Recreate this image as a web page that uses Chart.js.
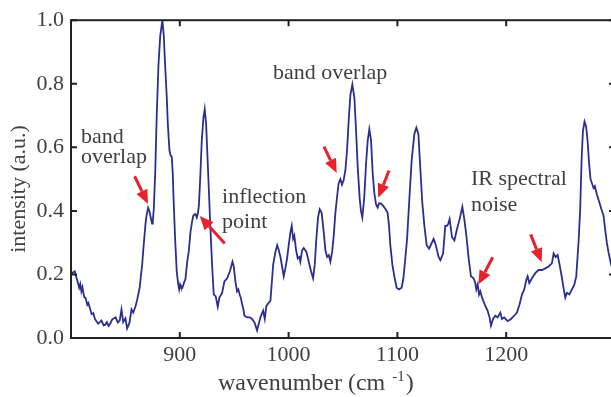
<!DOCTYPE html>
<html>
<head>
<meta charset="utf-8">
<script src="https://cdn.jsdelivr.net/npm/chart.js@4.4.1/dist/chart.umd.min.js"></script>
<style>
html, body { margin: 0; padding: 0; overflow: hidden; background: #fff; }
canvas { display: block; }
</style>
</head>
<body>
<canvas id="espectro" width="620" height="397"></canvas>
<script>
// numero de onda (cm-1)
const numeroDeOnda = [
  800.5, 802, 803.5, 805, 806.5, 807.5, 808.5, 809.5, 810.5, 812, 813.5, 815, 816, 817.5, 819, 820.5,
  822, 823.5, 825, 826.5, 828, 830, 831.5, 833, 834.5, 836, 837.8, 839.5, 841, 843, 844.8, 846.4,
  848, 850, 851.6, 853.8, 855.6, 857.2, 859.3, 860.8, 862, 863.2, 864.4, 865.4, 866.5, 867.5, 868.5,
  869.4, 870.9, 872, 873, 874.5, 875.2, 876.1, 877.4, 878.8, 880.4, 882, 884, 885.3, 886.5, 888, 889,
  890.5, 891.5, 892.6, 893.5, 894.2, 895.7, 897.2, 898.5, 899.4, 900.2, 901, 902.4, 903.5, 904.3,
  905.2, 906.8, 908.2, 909.8, 911, 912.3, 913.5, 914.4, 915.6, 916.5, 917.5, 918.7, 920.2, 921.7,
  922.9, 924.2, 925.7, 927.9, 929, 930, 931.2, 933, 934.9, 936.4, 938.9, 941, 943.5, 946, 948.4,
  949.6, 951.1, 952.6, 953.8, 955, 956.2, 957.3, 958.5, 959.4, 961.9, 964.3, 966.4, 968.6, 970, 971,
  972.5, 974.1, 976.6, 978.1, 979.6, 981.7, 983.3, 984.2, 985.8, 987.9, 989.5, 991, 992.5, 994,
  995.5, 997, 998.6, 1000.1, 1001.7, 1002.9, 1004.2, 1005.3, 1006.9, 1008.4, 1009.9, 1010.8, 1012.4,
  1013.9, 1016.4, 1018.5, 1020.7, 1022.5, 1024, 1025.5, 1027.1, 1028.6, 1030.4, 1032.3, 1033.8,
  1035.4, 1036.9, 1038.4, 1040, 1041.5, 1043, 1044.6, 1046, 1047.6, 1049.1, 1050.6, 1052.2, 1053.7,
  1055.2, 1056.8, 1058.6, 1060.5, 1062, 1063.5, 1065.3, 1066.5, 1067.8, 1069.6, 1071.2, 1072.7,
  1074.2, 1075.8, 1077.3, 1078.8, 1080.4, 1081.9, 1083.1, 1085, 1087.1, 1089.2, 1091, 1092.3, 1093.5,
  1095.4, 1097.2, 1099.3, 1101.5, 1103.9, 1105.5, 1107, 1108.9, 1110.7, 1113.1, 1115.6, 1117.4,
  1119.3, 1120.8, 1122.9, 1124.8, 1126.9, 1129.1, 1131, 1133.3, 1134.9, 1137.9, 1139.5, 1142, 1144,
  1145.6, 1146.8, 1148, 1150.2, 1152.4, 1154.8, 1157.2, 1159.7, 1161.5, 1163.4, 1165.5, 1167.6, 1170,
  1171.6, 1172.5, 1173.8, 1175, 1176.2, 1177.8, 1180.8, 1182.9, 1184.7, 1186, 1187.9, 1190, 1192.1,
  1194.6, 1196.1, 1198.2, 1201.3, 1204.4, 1207.4, 1209.9, 1212.3, 1214.5, 1216.6, 1218.5, 1219.7,
  1221.2, 1223.7, 1226.7, 1229.8, 1232.9, 1235.9, 1239, 1242, 1243.6, 1245.4, 1247.3, 1249.1, 1251.3,
  1252.7, 1254.3, 1255.8, 1258, 1260.4, 1262.6, 1264.4, 1266.5, 1268, 1269.3, 1270.5, 1272, 1273.5,
  1274.8, 1276.2, 1277.5, 1278.8, 1280.3, 1281.5, 1283.4, 1285.8, 1287.5, 1289.5, 1291, 1292.5, 1294,
  1296.5, 1298.5, 1300
];

// intensidade (u.a.) na mesma ordem
const intensidade = [
  0.20, 0.207, 0.21, 0.19, 0.172, 0.158, 0.17, 0.147, 0.16, 0.13, 0.125, 0.104, 0.11, 0.092, 0.075, 0.078,
  0.06, 0.052, 0.045, 0.05, 0.055, 0.04, 0.042, 0.05, 0.038, 0.045, 0.058, 0.062, 0.065, 0.049, 0.055, 0.09,
  0.05, 0.062, 0.03, 0.049, 0.09, 0.08, 0.1, 0.12, 0.14, 0.16, 0.2, 0.23, 0.28, 0.32, 0.36,
  0.385, 0.41, 0.4, 0.384, 0.36, 0.37, 0.405, 0.52, 0.70, 0.86, 0.95, 1.0, 0.95, 0.86, 0.76, 0.673,
  0.59, 0.575, 0.57, 0.52, 0.446, 0.312, 0.209, 0.17, 0.153, 0.168, 0.16, 0.158, 0.17, 0.178,
  0.185, 0.24, 0.271, 0.333, 0.36, 0.384, 0.389, 0.39, 0.379, 0.39, 0.415, 0.497, 0.621, 0.693,
  0.72, 0.673, 0.549, 0.364, 0.28, 0.209, 0.137, 0.131, 0.098, 0.127, 0.142, 0.178, 0.188, 0.209, 0.24,
  0.225, 0.178, 0.147, 0.153, 0.137, 0.125, 0.106, 0.09, 0.07, 0.065, 0.065, 0.06, 0.049, 0.035, 0.024,
  0.044, 0.065, 0.086, 0.06, 0.101, 0.111, 0.117, 0.158, 0.23, 0.271, 0.292, 0.276, 0.255, 0.225,
  0.194, 0.219, 0.25, 0.292, 0.333, 0.353, 0.312, 0.322, 0.276, 0.25, 0.255, 0.24, 0.276,
  0.283, 0.271, 0.24, 0.209, 0.188, 0.23, 0.312, 0.38, 0.405, 0.394, 0.333, 0.276,
  0.255, 0.261, 0.24, 0.271, 0.322, 0.394, 0.446, 0.487, 0.5, 0.482, 0.497, 0.528, 0.59,
  0.683, 0.765, 0.798, 0.755, 0.652, 0.54, 0.44, 0.40, 0.379, 0.446, 0.549, 0.621,
  0.657, 0.621, 0.518, 0.456, 0.42, 0.41, 0.424, 0.423, 0.415, 0.405, 0.394, 0.353, 0.292,
  0.23, 0.194, 0.158, 0.153, 0.158, 0.188, 0.24, 0.312, 0.42, 0.559, 0.642, 0.662,
  0.642, 0.549, 0.425, 0.353, 0.292, 0.281, 0.295, 0.312, 0.297, 0.255, 0.245, 0.266, 0.353,
  0.353, 0.36, 0.374, 0.317, 0.307, 0.343, 0.374, 0.413, 0.374, 0.322, 0.25, 0.194, 0.188,
  0.173, 0.153, 0.168, 0.137, 0.147, 0.127, 0.101, 0.086, 0.065, 0.039, 0.06, 0.07, 0.065,
  0.08, 0.06, 0.065, 0.053, 0.06, 0.07, 0.08, 0.106, 0.137, 0.153, 0.183, 0.194,
  0.173, 0.188, 0.204, 0.214, 0.214, 0.219, 0.225, 0.235, 0.266, 0.255, 0.261, 0.23, 0.188,
  0.158, 0.127, 0.142, 0.137, 0.153, 0.168, 0.194, 0.302, 0.405, 0.56, 0.65, 0.681, 0.665,
  0.62, 0.549, 0.5, 0.487, 0.472, 0.478, 0.451, 0.425, 0.405, 0.385, 0.34, 0.3, 0.27,
  0.23, 0.215, 0.205
];

const ticksX = [900, 1000, 1100, 1200];
const ticksY = [0, 0.2, 0.4, 0.6, 0.8, 1.0];

// anotacoes em coordenadas de dados
const textos = [
  { texto: 'band', x: 809.2, y: 0.614 },
  { texto: 'overlap', x: 809.2, y: 0.552 },
  { texto: 'inflection', x: 938.8, y: 0.426 },
  { texto: 'point', x: 938.8, y: 0.346 },
  { texto: 'band overlap', x: 985.7, y: 0.815 },
  { texto: 'IR spectral', x: 1167.6, y: 0.481 },
  { texto: 'noise', x: 1167.6, y: 0.401 }
];

const setas = [
  { de: [858.5, 0.509], para: [870.8, 0.422] },
  { de: [941.3, 0.297], para: [918.3, 0.384] },
  { de: [1032.5, 0.602], para: [1044.2, 0.519] },
  { de: [1092.3, 0.527], para: [1082.4, 0.441] },
  { de: [1187.6, 0.254], para: [1174.4, 0.168] },
  { de: [1222.5, 0.326], para: [1232.6, 0.238] }
];

const FONTE = '"Liberation Serif", "Times New Roman", serif';
const COR_TEXTO = '#404040';

// moldura, marcas internas, setas, textos e titulos dos eixos
const moldura = {
  id: 'moldura',
  afterDatasetsDraw(chart) {
    const { ctx, chartArea: a, scales: { x, y } } = chart;
    ctx.save();
    ctx.strokeStyle = '#222';
    ctx.lineWidth = 2;
    ctx.strokeRect(a.left, a.top, a.right - a.left, a.bottom - a.top);
    ctx.beginPath();
    ticksX.forEach(v => {
      const px = x.getPixelForValue(v);
      ctx.moveTo(px, a.bottom); ctx.lineTo(px, a.bottom - 6);
      ctx.moveTo(px, a.top); ctx.lineTo(px, a.top + 6);
    });
    ticksY.forEach(v => {
      const py = y.getPixelForValue(v);
      ctx.moveTo(a.left, py); ctx.lineTo(a.left + 6, py);
      ctx.moveTo(a.right, py); ctx.lineTo(a.right - 6, py);
    });
    ctx.stroke();

    // setas vermelhas
    ctx.strokeStyle = '#e8222c';
    ctx.fillStyle = '#e8222c';
    ctx.lineWidth = 3;
    setas.forEach(s => {
      const x1 = x.getPixelForValue(s.de[0]), y1 = y.getPixelForValue(s.de[1]);
      const x2 = x.getPixelForValue(s.para[0]), y2 = y.getPixelForValue(s.para[1]);
      const ang = Math.atan2(y2 - y1, x2 - x1);
      const cab = 14, larg = 6;
      const bx = x2 - cab * Math.cos(ang), by = y2 - cab * Math.sin(ang);
      ctx.beginPath();
      ctx.moveTo(x1, y1); ctx.lineTo(bx, by);
      ctx.stroke();
      ctx.beginPath();
      ctx.moveTo(x2, y2);
      ctx.lineTo(bx + larg * Math.sin(ang), by - larg * Math.cos(ang));
      ctx.lineTo(bx - larg * Math.sin(ang), by + larg * Math.cos(ang));
      ctx.closePath();
      ctx.fill();
    });

    ctx.fillStyle = COR_TEXTO;
    ctx.font = '22px ' + FONTE;
    ctx.textAlign = 'left';
    ctx.textBaseline = 'alphabetic';
    textos.forEach(t => {
      ctx.fillText(t.texto, x.getPixelForValue(t.x), y.getPixelForValue(t.y));
    });

    // titulo do eixo x com expoente
    const base = 390;
    let px = 218;
    const parte1 = 'wavenumber (cm ';
    ctx.font = '24px ' + FONTE;
    ctx.fillText(parte1, px, base);
    px += ctx.measureText(parte1).width + 1;
    ctx.font = '15px ' + FONTE;
    ctx.fillText('-1', px, base - 9);
    px += ctx.measureText('-1').width + 1;
    ctx.font = '24px ' + FONTE;
    ctx.fillText(')', px, base);

    // titulo do eixo y
    ctx.save();
    ctx.translate(25, 189);
    ctx.rotate(-Math.PI / 2);
    ctx.textAlign = 'center';
    ctx.font = '22px ' + FONTE;
    ctx.fillText('intensity (a.u.)', 0, 0);
    ctx.restore();
    ctx.restore();
  }
};

const pontos = numeroDeOnda.map((v, i) => ({ x: v, y: intensidade[i] }));

new Chart(document.getElementById('espectro').getContext('2d'), {
  type: 'line',
  data: {
    datasets: [{
      data: pontos,
      borderColor: '#2b2e8f',
      borderWidth: 1.8,
      pointRadius: 0,
      tension: 0,
      fill: false
    }]
  },
  options: {
    responsive: false,
    animation: false,
    devicePixelRatio: 1,
    layout: { padding: { top: 14, right: 5, left: 0, bottom: 0 } },
    plugins: { legend: { display: false }, tooltip: { enabled: false } },
    scales: {
      x: {
        type: 'linear',
        min: 800,
        max: 1300,
        grid: { display: false, drawTicks: false },
        border: { display: false },
        afterBuildTicks: s => { s.ticks = ticksX.map(v => ({ value: v })); },
        afterFit: s => { s.height = 59; },
        ticks: {
          padding: 4,
          maxRotation: 0,
          color: COR_TEXTO,
          font: { family: FONTE, size: 22 },
          callback: v => String(v)
        }
      },
      y: {
        min: 0,
        max: 1.0,
        grid: { display: false, drawTicks: false },
        border: { display: false },
        afterBuildTicks: s => { s.ticks = ticksY.map(v => ({ value: v })); },
        afterFit: s => { s.width = 71; },
        ticks: {
          padding: 7,
          color: COR_TEXTO,
          font: { family: FONTE, size: 22 },
          callback: v => Number(v).toFixed(1)
        }
      }
    }
  },
  plugins: [moldura]
});
</script>
</body>
</html>
